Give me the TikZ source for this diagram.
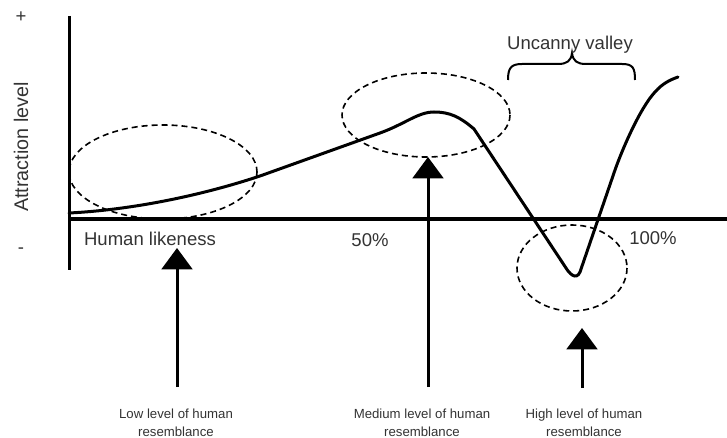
\documentclass[tikz,border=0pt]{standalone}
\usepackage{fontspec}
\setmainfont{Liberation Sans}
\usetikzlibrary{arrows.meta}

\definecolor{labelgray}{RGB}{51,51,51}

\tikzset{every picture/.style={line width=0.75pt}}
\tikzset{
  axis line/.style={line width=2.25pt},
  likeness curve/.style={line width=2.25pt, line join=round, line cap=round},
  region ring/.style={line width=1.2pt, dash pattern=on 4.5pt off 3pt},
  brace line/.style={line width=1.5pt},
  pointer/.style={line width=2.25pt, -{Triangle[length=16pt,width=23pt]}},
  big label/.style={text=labelgray, font=\fontsize{13.9}{16}\selectfont, inner sep=0pt},
  small label/.style={text=labelgray, font=\fontsize{9.9}{13.5}\selectfont, align=center, inner sep=0pt},
}

\begin{document}
\begin{tikzpicture}[x=0.75pt,y=0.75pt,yscale=-1,xscale=1]
	\useasboundingbox (0,0) rectangle (727,438);

	%Axes
	\coordinate (ytop) at (69,16);
	\coordinate (ybot) at (69,270);
	\coordinate (xleft) at (69,219);
	\coordinate (xright) at (727,219);
	\draw [axis line] (ytop) -- (ybot) ;
	\draw [axis line] (xleft) -- (xright) ;

	%Curve Lines
	\draw [likeness curve] (69,213) .. controls (130,210) and (200,196) .. (260,176) -- (380,133) .. controls (405,124) and (418,112) .. (434,112) .. controls (450,112) and (460,117) .. (474,129) -- (566,268) .. controls (569,273) and (576,281) .. (580,272) -- (615,170) .. controls (622,150) and (640,108) .. (655,92) .. controls (663,83) and (670,80) .. (678,77) ;

	%Shape: Ellipses
	\draw [region ring] (163,172) ellipse [x radius=94, y radius=47] ;
	\draw [region ring] (426,115) ellipse [x radius=84, y radius=42] ;
	\draw [region ring] (572,268) ellipse [x radius=55, y radius=43] ;

	%Brace
	\draw [brace line] (508,80) .. controls (508,68) and (511,64) .. (522,64) -- (558,64) .. controls (567,64) and (571,61) .. (572,53) .. controls (573,61) and (577,64) .. (586,64) -- (622,64) .. controls (633,64) and (635,68) .. (635,80) ;

	%Straight Lines
	\coordinate (lowbase) at (177,387);
	\coordinate (lowtip) at (177,248);
	\coordinate (medbase) at (428,387);
	\coordinate (medtip) at (428,157);
	\coordinate (highbase) at (582,388);
	\coordinate (hightip) at (582,328);
	\draw [pointer] (lowbase) -- (lowtip) ;
	\draw [pointer] (medbase) -- (medtip) ;
	\draw [pointer] (highbase) -- (hightip) ;

	% Text Node
	\node [big label, anchor=center] (plus) at (21,17) {+};
	% Text Node
	\node [big label, anchor=base] (minus) at (21,253) {-};
	% Text Node
	\node [big label, anchor=base, rotate=90, font=\fontsize{14.8}{17}\selectfont] (attract) at (28,147) {Attraction level};
	% Text Node
	\node [big label, anchor=base] (likeness) at (150,245) {Human likeness};
	% Text Node
	\node [big label, anchor=base] (half) at (370,246) {50\%};
	% Text Node
	\node [big label, anchor=base] (full) at (653,244) {100\%};
	% Text Node
	\node [big label, anchor=base] (valley) at (570,50) {Uncanny valley};
	% Text Node
	\node [small label, anchor=north] (lowlbl) at (176,408) {Low level of human\\resemblance};
	% Text Node
	\node [small label, anchor=north] (medlbl) at (422,408) {Medium level of human\\resemblance};
	% Text Node
	\node [small label, anchor=north] (highlbl) at (584,408) {High level of human\\resemblance};

\end{tikzpicture}
\end{document}
